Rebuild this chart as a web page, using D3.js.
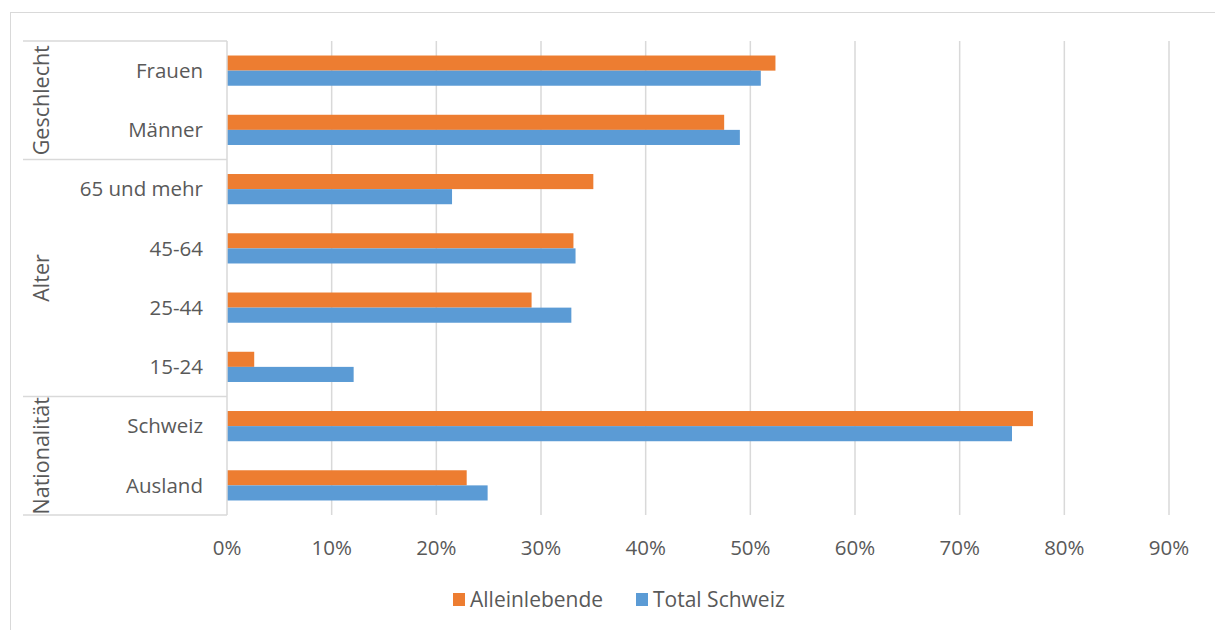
<!DOCTYPE html>
<html><head><meta charset="utf-8">
<script src="https://cdn.jsdelivr.net/npm/d3@7"></script>
<style>body{margin:0;background:#fff;}svg{display:block;font-family:"Open Sans",sans-serif;}</style>
</head><body><svg id="c" width="1215" height="630"></svg>
<script>
const categories = ["Frauen","Männer","65 und mehr","45-64","25-44","15-24","Schweiz","Ausland"];
const groups = [
  {name:"Geschlecht", from:0, to:1},
  {name:"Alter", from:2, to:5},
  {name:"Nationalität", from:6, to:7}
];
const seriesNames = ["Alleinlebende","Total Schweiz"];
const alleinlebende = [52.4, 47.5, 35.0, 33.1, 29.1, 2.6, 77.0, 22.9];
const totalSchweiz = [51.0, 49.0, 21.5, 33.3, 32.9, 12.1, 75.0, 24.9];
const xTicks = [0,10,20,30,40,50,60,70,80,90];
const colors = ["#ED7D31","#5B9BD5"];

const svg = d3.select("#c");
const L = 227, R = 1169, T = 41, B = 515;
const x = d3.scaleLinear().domain([0,90]).range([L,R]);
const y = d3.scaleBand().domain(categories).range([T,B]).paddingInner(0.49).paddingOuter(0.245);
const yRow = d3.scaleBand().domain(categories).range([T,B]);
const ySub = d3.scaleBand().domain(seriesNames).range([0,y.bandwidth()]);

// outer border
svg.append("rect").attr("x",10.5).attr("y",12.5).attr("width",1220).attr("height",630)
  .attr("fill","none").attr("stroke","#d9d9d9");

// gridlines
svg.append("g").selectAll("line").data(xTicks.slice(1)).join("line")
  .attr("x1",d=>x(d)).attr("x2",d=>x(d)).attr("y1",T).attr("y2",B)
  .attr("stroke","#d9d9d9").attr("stroke-width",1.5);

// bars
const data = categories.map((c,i)=>({c, vals:[alleinlebende[i], totalSchweiz[i]]}));
const rows = svg.append("g").selectAll("g").data(data).join("g")
  .attr("transform",d=>`translate(0,${y(d.c)})`);
rows.selectAll("rect").data(d=>d.vals.map((v,j)=>({v,s:seriesNames[j],j}))).join("rect")
  .attr("x",x(0)).attr("y",d=>ySub(d.s)).attr("width",d=>x(d.v)-x(0)).attr("height",ySub.bandwidth())
  .attr("fill",d=>colors[d.j]);

// y axis line
svg.append("line").attr("x1",L).attr("x2",L).attr("y1",T).attr("y2",B).attr("stroke","#d9d9d9").attr("stroke-width",1.5);

// group separators
const seps = [T, yRow(categories[2]), yRow(categories[6]), B];
svg.append("g").selectAll("line").data(seps).join("line")
  .attr("x1",23).attr("x2",L).attr("y1",d=>d).attr("y2",d=>d)
  .attr("stroke","#d9d9d9").attr("stroke-width",1.5);

// category labels
svg.append("g").selectAll("text").data(categories).join("text")
  .attr("x",203).attr("y",d=>yRow(d)+yRow.bandwidth()/2).attr("dy","0.35em")
  .attr("text-anchor","end").attr("fill","#595959").attr("font-size",20.5).text(d=>d);

// group labels
svg.append("g").selectAll("text").data(groups).join("text")
  .attr("transform",d=>{
    const yc = (yRow(categories[d.from]) + yRow(categories[d.to]) + yRow.bandwidth())/2;
    return `translate(41,${yc}) rotate(-90)`;})
  .attr("dy","0.35em").attr("text-anchor","middle").attr("fill","#595959").attr("font-size",21.5).text(d=>d.name);

// x tick labels
svg.append("g").selectAll("text").data(xTicks).join("text")
  .attr("x",d=>x(d)).attr("y",548).attr("dy","0.35em").attr("text-anchor","middle")
  .attr("fill","#595959").attr("font-size",20.5).text(d=>d+"%");

// legend
const leg = svg.append("g");
const legX = [453, 636];
seriesNames.forEach((s,i)=>{
  leg.append("rect").attr("x",legX[i]).attr("y",593).attr("width",12).attr("height",13).attr("fill",colors[i]);
  leg.append("text").attr("x",legX[i]+17).attr("y",600).attr("dy","0.35em").attr("fill","#595959").attr("font-size",21).text(s);
});
</script></body></html>
